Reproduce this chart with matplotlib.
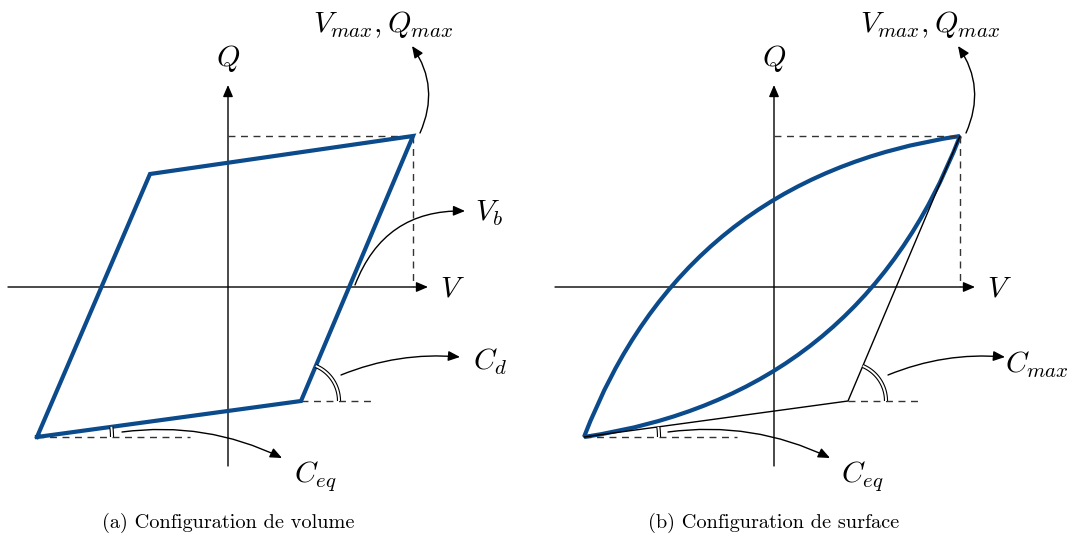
import numpy as np
import matplotlib.pyplot as plt
from matplotlib.patches import FancyArrowPatch, PathPatch
from matplotlib.path import Path

plt.rcParams['mathtext.fontset'] = 'cm'

# diagram coordinates (pixel units, y grows downward)
blue = '#0b4a8b'
ox = [228, 774]          # Q axis x for each panel
vy = 287                 # V axis y
q_top = 85
q_bot = 466
v_left = [8, 555]
v_right = [428, 975]

# panel (a): parallelogram
para_x = [37, 301, 413, 150, 37]
para_y = [437, 401, 136, 174, 437]

# panel (b): endpoints and bezier controls
b_start = (584, 437)
b_end = (960, 136)
b_ctrl_up = (684, 177)
b_ctrl_down = (860, 396)
b_knee = (848, 401)

captions = ['(a) Configuration de volume', '(b) Configuration de surface']

fig = plt.figure(figsize=(10.74, 5.42), dpi=100)
ax = fig.add_axes([0, 0, 1, 1])
ax.set_xlim(0, 1074)
ax.set_ylim(542, 0)
ax.axis('off')


def arrow(p0, p1, rad, lw=1.0):
    a = FancyArrowPatch(p0, p1, connectionstyle='arc3,rad=%s' % rad,
                        arrowstyle='-|>,head_length=7,head_width=3',
                        color='black', lw=lw, shrinkA=0, shrinkB=0)
    ax.add_patch(a)


def double_arc(c, r, a0, a1):
    t = np.radians(np.linspace(a0, a1, 40))
    xs = c[0] + r * np.cos(t)
    ys = c[1] - r * np.sin(t)
    ax.plot(xs, ys, color='black', lw=3.0, solid_capstyle='butt')
    ax.plot(xs, ys, color='white', lw=1.4, solid_capstyle='butt')


def ang(p0, p1):
    return np.degrees(np.arctan2(p0[1] - p1[1], p1[0] - p0[0]))


dash = dict(color='#333333', lw=1.0, ls=(0, (5, 4)))
mfs = 21.5

for i in range(2):
    x0 = ox[i]
    # axes
    arrow((x0, q_bot), (x0, q_top), 0)
    arrow((v_left[i], vy), (v_right[i], vy), 0)
    ax.text(x0, 59, '$Q$', fontsize=mfs, ha='center', va='center')
    ax.text(v_right[i] + 24, vy + 1, '$V$', fontsize=mfs, ha='center', va='center')
    ax.text(x0, 523, captions[i], fontsize=14.6, family='cmr10',
            ha='center', va='center')

# ---- panel (a)
ax.plot([228, 413], [136, 136], **dash)
ax.plot([413, 413], [136, 287], **dash)
ax.plot([37, 190], [437, 437], **dash)
ax.plot([301, 375], [401, 401], **dash)
ax.plot(para_x, para_y, color=blue, lw=3.0, solid_joinstyle='miter')
double_arc((301, 401), 38, 0, ang((301, 401), (413, 136)))
double_arc((37, 437), 75, 0, ang((37, 437), (301, 401)))
arrow((420, 133), (412, 46), 0.28)
ax.text(383, 24, r'$V_{max}, Q_{max}$', fontsize=mfs, ha='center', va='center')
arrow((355, 285), (465, 211), -0.35)
ax.text(489, 213, '$V_b$', fontsize=mfs, ha='center', va='center')
arrow((341, 375), (460, 357), -0.12)
ax.text(490, 362, '$C_d$', fontsize=mfs, ha='center', va='center')
arrow((122, 432), (282, 458), -0.15)
ax.text(315, 476, '$C_{eq}$', fontsize=mfs, ha='center', va='center')

# ---- panel (b)
ax.plot([774, 960], [136, 136], **dash)
ax.plot([960, 960], [136, 287], **dash)
ax.plot([584, 737], [437, 437], **dash)
ax.plot([848, 922], [401, 401], **dash)
ax.plot([b_start[0], b_knee[0], b_end[0]], [b_start[1], b_knee[1], b_end[1]],
        color='black', lw=1.0)
for ctrl in [b_ctrl_up, b_ctrl_down]:
    p = Path([b_start, ctrl, b_end], [Path.MOVETO, Path.CURVE3, Path.CURVE3])
    ax.add_patch(PathPatch(p, fc='none', ec=blue, lw=3.0))
double_arc(b_knee, 38, 0, ang(b_knee, b_end))
double_arc(b_start, 75, 0, ang(b_start, b_knee))
arrow((966, 133), (958, 46), 0.28)
ax.text(930, 24, r'$V_{max}, Q_{max}$', fontsize=mfs, ha='center', va='center')
arrow((888, 375), (1005, 357), -0.12)
ax.text(1037, 365, '$C_{max}$', fontsize=mfs, ha='center', va='center')
arrow((668, 432), (830, 458), -0.15)
ax.text(862, 476, '$C_{eq}$', fontsize=mfs, ha='center', va='center')

fig.savefig('out.png', dpi=100)
